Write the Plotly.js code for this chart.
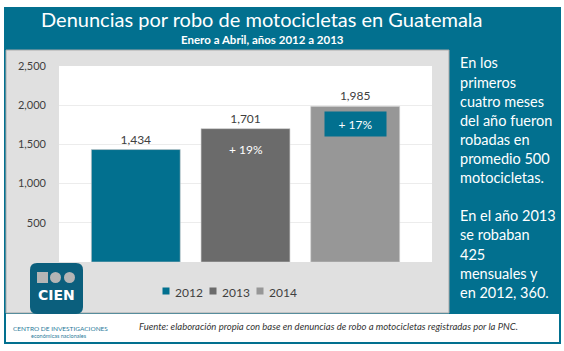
<!DOCTYPE html>
<html>
<head>
<meta charset="utf-8">
<script src="https://cdn.plot.ly/plotly-3.0.1.min.js"></script>
<style>
html,body{margin:0;padding:0;background:#fff;}
#chart{width:564px;height:351px;}
</style>
</head>
<body>
<div id="chart"></div>
<script>
// ---- data ----
const years = ['2012', '2013', '2014'];
const legendLabels = ['2012', '2013', '2014'];
const denuncias = [1434, 1701, 1985];
const changeLabels = ['', '+ 19%', '+ 17%'];
const barColors = ['#02708f', '#6b6b6b', '#979797'];
const yTicks = [500, 1000, 1500, 2000, 2500];
const titleText = 'Denuncias por robo de motocicletas en Guatemala';
const subtitleText = 'Enero a Abril, años 2012 a 2013';
const sideLines = ['En los', 'primeros', 'cuatro meses', 'del año fueron', 'robadas en',
  'promedio 500', 'motocicletas.', '', 'En el año 2013', 'se robaban', '425',
  'mensuales y', 'en 2012, 360.'];
const sourceText = 'Fuente: elaboración propia con base en denuncias de robo a motocicletas registradas por la PNC.';

// ---- geometry helpers (pixel -> paper) ----
const W = 564, H = 351;
const M = {l: 59, r: 132, t: 66, b: 89};
const PW = W - M.l - M.r, PH = H - M.t - M.b;
const px = x => (x - M.l) / PW;
const py = y => (H - M.b - y) / PH;

const teal = '#02708f';
const fontFam = 'Lato, "Open Sans", sans-serif';

const traces = years.map((yr, i) => ({
  type: 'bar',
  x: [yr],
  y: [denuncias[i]],
  name: legendLabels[i],
  width: 0.81,
  marker: {color: barColors[i], line: {color: 'rgba(200,200,200,0.6)', width: 1}},
  texttemplate: '%{y:,}',
  textposition: 'outside',
  textfont: {family: fontFam, size: 12, color: '#404040'},
  cliponaxis: false,
  showlegend: false,
  hoverinfo: 'skip'
}));

const shapes = [
  // outer teal frame
  {type: 'rect', xref: 'paper', yref: 'paper', x0: px(4), x1: px(561), y0: py(7), y1: py(344),
   fillcolor: teal, line: {width: 0}, layer: 'below'},
  // grey chart panel
  {type: 'rect', xref: 'paper', yref: 'paper', x0: px(6), x1: px(449), y0: py(50), y1: py(313),
   fillcolor: '#e0e0e0', line: {color: '#a9a9a9', width: 1}, layer: 'below'},
  // white footer
  {type: 'rect', xref: 'paper', yref: 'paper', x0: px(6), x1: px(559), y0: py(314), y1: py(342),
   fillcolor: '#ffffff', line: {width: 0}, layer: 'below'},
  // white plot area
  {type: 'rect', xref: 'paper', yref: 'paper', x0: 0, x1: 1, y0: 0, y1: 1,
   fillcolor: '#ffffff', line: {width: 0}, layer: 'below'},
  // CIEN logo
  {type: 'path', xref: 'paper', yref: 'paper', layer: 'above', fillcolor: '#0b5f7d', line: {width: 0},
   path: (() => {
     const x0 = 30, x1 = 83, y0 = 263, y1 = 314, r = 7;
     const P = (x, y) => px(x) + ',' + py(y);
     return 'M' + P(x0 + r, y0) + ' L' + P(x1 - r, y0) + ' Q' + P(x1, y0) + ' ' + P(x1, y0 + r) +
       ' L' + P(x1, y1 - r) + ' Q' + P(x1, y1) + ' ' + P(x1 - r, y1) +
       ' L' + P(x0 + r, y1) + ' Q' + P(x0, y1) + ' ' + P(x0, y1 - r) +
       ' L' + P(x0, y0 + r) + ' Q' + P(x0, y0) + ' ' + P(x0 + r, y0) + ' Z';
   })()},
  {type: 'rect', xref: 'paper', yref: 'paper', x0: px(37), x1: px(48), y0: py(272), y1: py(283),
   fillcolor: '#b5b5b5', line: {width: 0}, layer: 'above'},
  {type: 'circle', xref: 'paper', yref: 'paper', x0: px(50), x1: px(61), y0: py(272), y1: py(283),
   fillcolor: '#b5b5b5', line: {width: 0}, layer: 'above'},
  {type: 'circle', xref: 'paper', yref: 'paper', x0: px(64), x1: px(75), y0: py(272), y1: py(283),
   fillcolor: '#b5b5b5', line: {width: 0}, layer: 'above'}
];

// manual legend squares
const legendX = [166, 213, 260];
years.forEach((yr, i) => {
  shapes.push({type: 'rect', xref: 'paper', yref: 'paper',
    x0: px(legendX[i] - 3.5), x1: px(legendX[i] + 3.5), y0: py(294.5), y1: py(287.5),
    fillcolor: barColors[i], line: {width: 0}, layer: 'above'});
});

const annotations = [
  {text: titleText, xref: 'paper', yref: 'paper', x: px(262), y: py(19), showarrow: false,
   font: {family: fontFam, size: 20, color: '#ffffff'}, xanchor: 'center', yanchor: 'middle'},
  {text: '<b>' + subtitleText + '</b>', xref: 'paper', yref: 'paper', x: px(262), y: py(40), showarrow: false,
   font: {family: fontFam, size: 11.5, color: '#ffffff'}, xanchor: 'center', yanchor: 'middle'},
  {text: '<b>CIEN</b>', xref: 'paper', yref: 'paper', x: px(56.5), y: py(295), showarrow: false,
   font: {family: '"DejaVu Sans", sans-serif', size: 14, color: '#ffffff'}, xanchor: 'center', yanchor: 'middle'},
  {text: 'CENTRO DE INVESTIGACIONES', xref: 'paper', yref: 'paper', x: px(60), y: py(328), showarrow: false,
   font: {family: fontFam, size: 6.5, color: '#2a7a9a'}, xanchor: 'center', yanchor: 'middle'},
  {text: 'económicas nacionales', xref: 'paper', yref: 'paper', x: px(59), y: py(335.5), showarrow: false,
   font: {family: fontFam, size: 5.5, color: '#2a7a9a'}, xanchor: 'center', yanchor: 'middle'},
  {text: '<i>' + sourceText + '</i>', xref: 'paper', yref: 'paper', x: px(137), y: py(326.5), showarrow: false,
   font: {family: fontFam, size: 9.5, color: '#333333'}, xanchor: 'left', yanchor: 'middle'}
];

sideLines.forEach((ln, i) => {
  if (!ln) return;
  annotations.push({text: ln, xref: 'paper', yref: 'paper', x: px(458), y: py(63 + i * 19.1),
    showarrow: false, xanchor: 'left', yanchor: 'middle',
    font: {family: fontFam, size: 14.5, color: '#ffffff'}});
});

years.forEach((yr, i) => {
  annotations.push({text: legendLabels[i], xref: 'paper', yref: 'paper', x: px(legendX[i] + 7), y: py(292),
    showarrow: false, xanchor: 'left', yanchor: 'middle',
    font: {family: fontFam, size: 12, color: '#404040'}});
});

// change labels inside bars (x given as category index)
changeLabels.forEach((lab, i) => {
  if (!lab) return;
  const boxed = i === 2;
  const ann = {text: lab, x: i, y: denuncias[i], xref: 'x', yref: 'y',
    showarrow: false, xanchor: 'center', yanchor: 'top',
    yshift: boxed ? -5 : -12, borderpad: 0,
    font: {family: fontFam, size: 12, color: '#ffffff'}};
  if (boxed) { ann.bgcolor = teal; ann.width = 61; ann.height = 24; }
  annotations.push(ann);
});

const layout = {
  width: W, height: H,
  margin: M,
  paper_bgcolor: '#ffffff',
  plot_bgcolor: '#ffffff',
  barmode: 'overlay',
  showlegend: false,
  font: {family: fontFam},
  xaxis: {type: 'category', range: [-0.7, 2.7], showticklabels: false, showgrid: false,
    zeroline: false, showline: false, ticks: '', fixedrange: true},
  yaxis: {range: [0, 2500], tickvals: yTicks, tickformat: ',', showgrid: true,
    gridcolor: '#ececec', gridwidth: 1, zeroline: false, showline: false, ticks: '',
    ticklabelstandoff: 12, tickfont: {family: fontFam, size: 11, color: '#404040'}, fixedrange: true},
  shapes: shapes,
  annotations: annotations
};

Plotly.newPlot('chart', traces, layout, {displayModeBar: false, staticPlot: true});
</script>
</body>
</html>
